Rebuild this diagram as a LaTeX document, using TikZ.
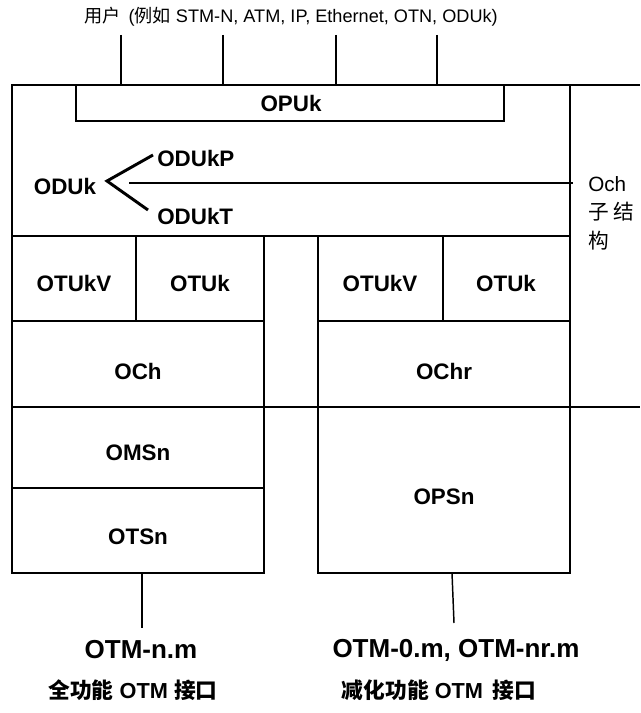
\documentclass[tikz,border=0pt]{standalone}
\usepackage{fontspec}
\setmainfont{Liberation Sans}
\newfontfamily\cjk{Noto Sans CJK SC}
\usetikzlibrary{positioning}
\tikzset{
  frame/.style={line width=1.1pt},
  thinline/.style={line width=0.8pt},
  forkline/.style={line width=2.2pt},
  lay/.style={font=\bfseries\fontsize{16.8}{19}\selectfont,inner sep=0pt},
  side/.style={font=\fontsize{15.5}{18}\selectfont,inner sep=0pt,anchor=west},
  client/.style={font=\fontsize{13.6}{16}\selectfont,inner sep=0pt},
  otm/.style={font=\bfseries\fontsize{19.5}{23}\selectfont,inner sep=0pt},
  iface/.style={font=\bfseries\fontsize{16.3}{19}\selectfont,inner sep=0pt},
}

\begin{document}
\begin{tikzpicture}[x=0.75pt,y=-0.75pt]
  \useasboundingbox (0,0) rectangle (640,713);
  % client signals
  \node[client] (users) at (291,17) {{\cjk 用户} \,({\cjk 例如} STM-N, ATM, IP, Ethernet, OTN, ODUk)};
  \foreach \x [count=\i] in {121,223,336,437} {
    \coordinate (in\i) at (\x,35);
    \coordinate (to\i) at (\x,85);
    \draw[frame] (in\i) -- (to\i);
  }
  % ODUk / OPUk block and OCh bracket
  \draw[frame] (12,85) rectangle (570,236);
  \draw[frame] (570,85) -- (640,85);
  \draw[frame] (570,236) -- (570,407);
  \draw[frame] (12,407) -- (640,407);
  \draw[frame] (76,85) rectangle (504,121);
  \node[lay] (opuk) at (291,103) {OPUk};
  \node[lay] (oduk) at (65,186) {ODUk};
  \node[lay,anchor=west] (odukp) at (157,158) {ODUkP};
  \node[lay,anchor=west] (odukt) at (157,216) {ODUkT};
  \coordinate (fork) at (107,181);
  \coordinate (forkp) at (153,155);
  \coordinate (forkt) at (148,210);
  \draw[forkline] (forkp) -- (fork) -- (forkt);
  \coordinate (ochfrom) at (129,183);
  \coordinate (ochto) at (573,183);
  \draw[thinline] (ochfrom) -- (ochto);
  \node[side] (och) at (588,184) {Och};
  \node[side] (subst) at (588,212) {\cjk 子 结};
  \node[side] (struct) at (588,241) {\cjk 构};
  % full functionality stack
  \draw[frame] (12,236) rectangle (136,321);
  \draw[frame] (136,236) rectangle (264,321);
  \draw[frame] (12,321) rectangle (264,407);
  \draw[frame] (12,407) rectangle (264,488);
  \draw[frame] (12,488) rectangle (264,573);
  \node[lay] (otukvA) at (74,283) {OTUkV};
  \node[lay] (otukA) at (200,283) {OTUk};
  \node[lay] (ochA) at (138,371) {OCh};
  \node[lay] (omsn) at (138,453) {OMSn};
  \node[lay] (otsn) at (138,537) {OTSn};
  % reduced functionality stack
  \draw[frame] (318,236) rectangle (443,321);
  \draw[frame] (443,236) rectangle (570,321);
  \draw[frame] (318,321) rectangle (570,407);
  \draw[frame] (318,407) rectangle (570,573);
  \node[lay] (otukvB) at (380,283) {OTUkV};
  \node[lay] (otukB) at (506,283) {OTUk};
  \node[lay] (ochr) at (444,371) {OChr};
  \node[lay] (opsn) at (444,497) {OPSn};
  % interfaces
  \node[otm] (otmfull) at (141,650) {OTM-n.m};
  \node[otm] (otmred) at (456,650) {OTM-0.m, OTM-nr.m};
  \node[iface] (fullif) at (133,690) {{\cjk 全功能} OTM {\cjk 接口}};
  \node[iface] (redif) at (439,690) {{\cjk 减化功能} OTM \,{\cjk 接口}};
  \coordinate (fulltop) at (142,573);
  \coordinate (fullend) at (142,628);
  \coordinate (redtop) at (452,573);
  \coordinate (redend) at (454,623);
  \draw[frame] (fulltop) -- (fullend);
  \draw[frame] (redtop) -- (redend);
\end{tikzpicture}
\end{document}
